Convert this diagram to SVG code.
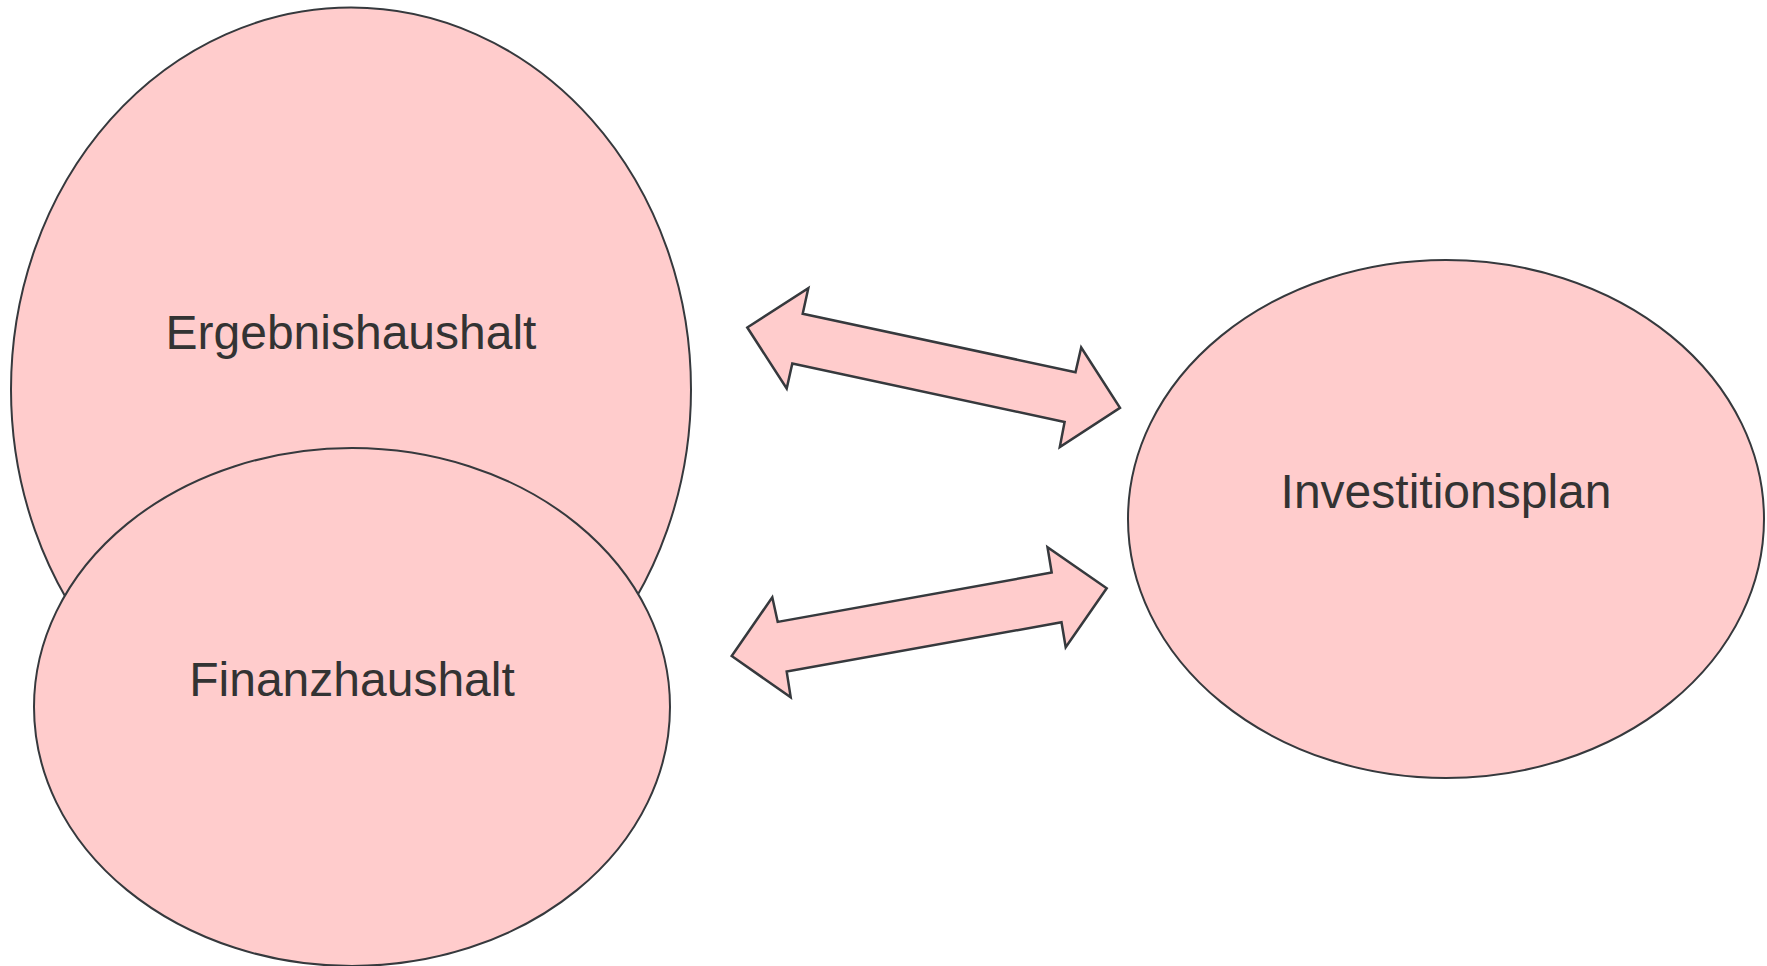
<svg xmlns="http://www.w3.org/2000/svg" width="1767" height="966" viewBox="0 0 1767 966">
<style>
.shape{fill:#FFCCCC;stroke:#36393D;stroke-width:2}
.arrow{fill:#FFCCCC;stroke:#36393D;stroke-width:2.5;stroke-linejoin:miter}
.label{font-family:"Liberation Sans",Arial,sans-serif;font-size:48px;fill:#333333;text-anchor:middle}
</style>
<rect width="1767" height="966" fill="#FFFFFF"/>
<g id="ergebnishaushalt">
<ellipse class="shape" cx="351" cy="389.5" rx="340" ry="382"/>
<text class="label" x="351" y="348.5">Ergebnishaushalt</text>
</g>
<g id="finanzhaushalt">
<ellipse class="shape" cx="352" cy="707" rx="318" ry="259"/>
<text class="label" x="352" y="695.5">Finanzhaushalt</text>
</g>
<g id="investitionsplan">
<ellipse class="shape" cx="1446" cy="519" rx="318" ry="259"/>
<text class="label" x="1446" y="507.5">Investitionsplan</text>
</g>
<g id="connectors">
<polygon class="arrow" points="747.3,327.5 808.3,288.3 802.7,313.8 1075.5,372.2 1081.2,347.5 1120,407.8 1059.8,447 1064.6,422 792.3,363.6 786.7,388.5"/>
<polygon class="arrow" points="731.7,656 772.3,597.3 777.7,621.9 1051.7,572.6 1047.5,547.3 1106.7,588.3 1065.7,647.3 1061.5,622.3 786.7,671.6 790.7,697.3"/>
</g>
</svg>
